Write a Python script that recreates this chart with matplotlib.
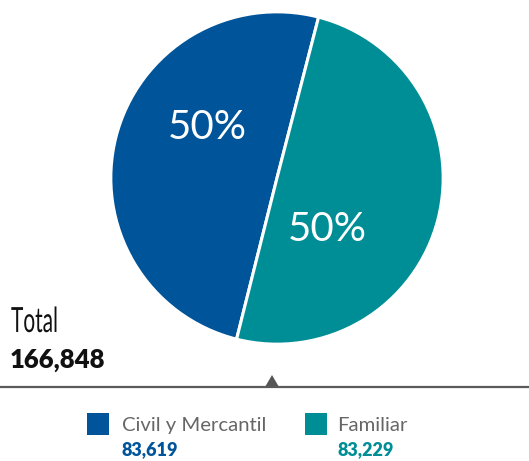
import matplotlib
matplotlib.use("Agg")
import matplotlib.pyplot as plt
from matplotlib.patches import Polygon, Rectangle
from matplotlib.lines import Line2D
from matplotlib import patheffects
from matplotlib.transforms import Affine2D

categories = ["Civil y Mercantil", "Familiar"]
values = [83619, 83229]
value_labels = ["83,619", "83,229"]
pct_labels = ["50%", "50%"]
total_title = "Total"
total_label = "166,848"
colors = ["#00549A", "#008E96"]

W, H = 529, 461
fig = plt.figure(figsize=(W / 100, H / 100), dpi=100)
fig.patch.set_facecolor("white")

def fx(x):
    return x / W

def fy(y):
    return 1 - y / H


class HScale(patheffects.AbstractPathEffect):
    """Horizontally condense text around an anchor x (display px)."""
    def __init__(self, sx, x0):
        super().__init__()
        self.sx = sx
        self.x0 = x0

    def draw_path(self, renderer, gc, tpath, affine, rgbFace=None):
        aff = affine + Affine2D().translate(-self.x0, 0).scale(self.sx, 1).translate(self.x0, 0)
        renderer.draw_path(gc, tpath, aff, rgbFace)


# pie axes
cx, cy, r = 277, 178, 167
ax = fig.add_axes([fx(cx - r), fy(cy + r), 2 * r / W, 2 * r / H])
wedges, _ = ax.pie(values, colors=colors, startangle=75.5, counterclock=True,
                   wedgeprops=dict(edgecolor="white", linewidth=2.2))
ax.set_xlim(-1.005, 1.005)
ax.set_ylim(-1.005, 1.005)
ax.set_aspect("auto")
ax.axis("off")

pct_pos = [(-0.42, 0.305), (0.305, -0.31)]
for (px, py), lab in zip(pct_pos, pct_labels):
    ax.text(px, py, lab, color="white", fontsize=29, family="Lato",
            fontweight="normal", ha="center", va="center")

# Total (condensed look)
t_total = fig.text(fx(11), fy(332), total_title, fontsize=25, family="Lato",
                   color="#111111", ha="left", va="baseline")
renderer = fig.canvas.get_renderer()
bb = t_total.get_window_extent(renderer)
sx = 47.0 / bb.width
t_total.set_path_effects([HScale(sx, bb.x0)])

fig.text(fx(10), fy(368), total_label, fontsize=18.5, family="Lato",
         fontweight="heavy", color="#111111", ha="left", va="baseline")

# horizontal rule and marker
fig.add_artist(Line2D([0, 1], [fy(387), fy(387)], transform=fig.transFigure,
                      color="#5a5a5a", linewidth=1.6))
fig.add_artist(Polygon([[fx(265), fy(387)], [fx(279), fy(387)], [fx(272), fy(375)]],
                       closed=True, transform=fig.transFigure, facecolor="#555555",
                       edgecolor="none"))

# legend
sq_x = [87, 305]
txt_x = [122, 337]
for i in range(len(categories)):
    fig.add_artist(Rectangle((fx(sq_x[i]), fy(435)), 22 / W, 22 / H,
                             transform=fig.transFigure, facecolor=colors[i],
                             edgecolor="none"))
    fig.text(fx(txt_x[i]), fy(431), categories[i], fontsize=14.6, family="Lato",
             color="#666666", ha="left", va="baseline")
    fig.text(fx(txt_x[i]), fy(455), value_labels[i], fontsize=13, family="Lato",
             fontweight="heavy", color=colors[i], ha="left", va="baseline")

fig.savefig("out.png", dpi=100)
